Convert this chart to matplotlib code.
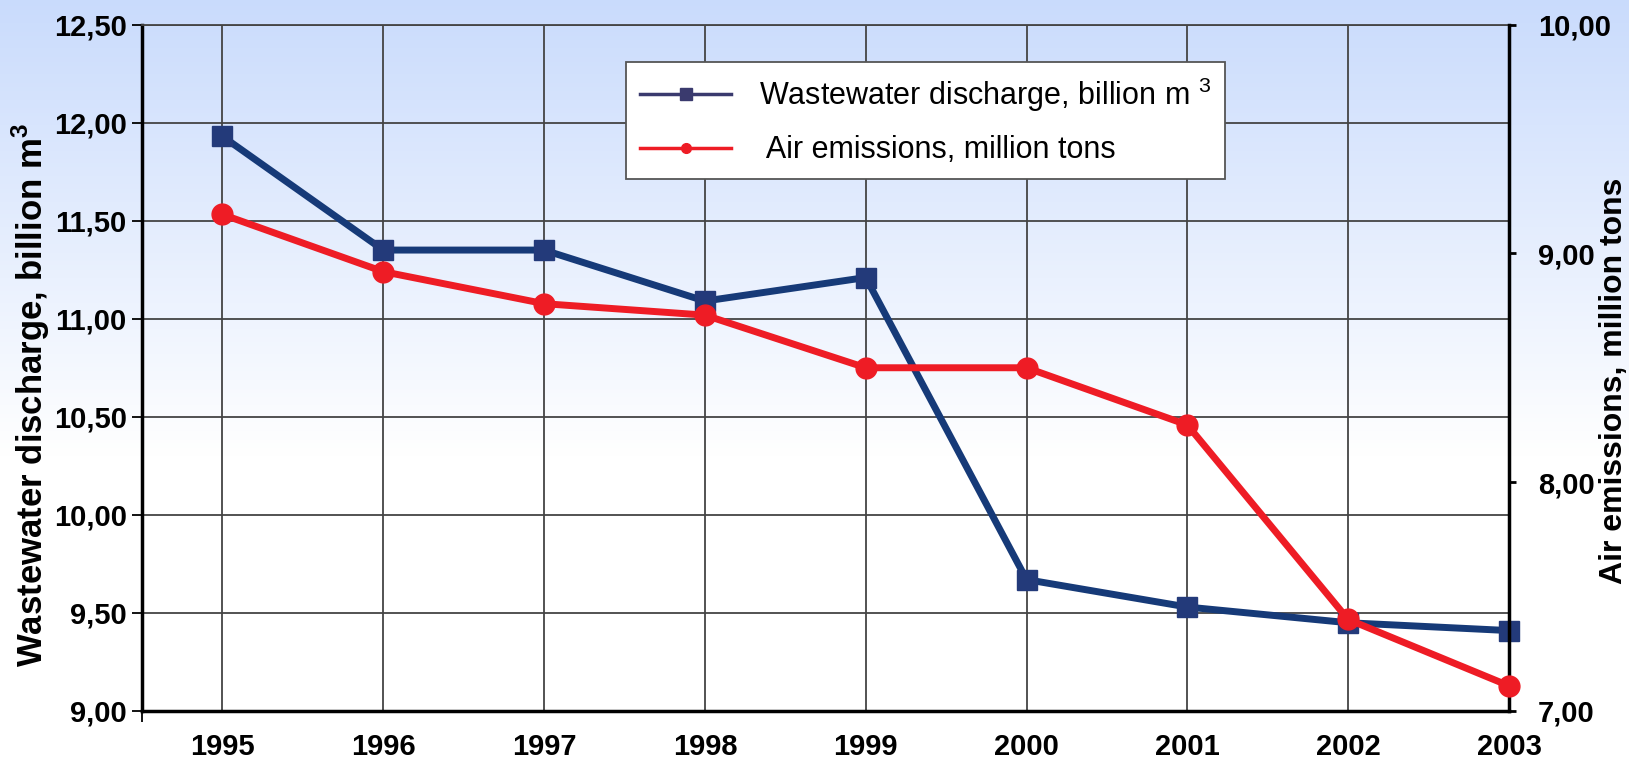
import numpy as np
import matplotlib
matplotlib.use('Agg')
import matplotlib.pyplot as plt
from matplotlib.lines import Line2D

plt.rcParams['font.family'] = ['Liberation Sans', 'DejaVu Sans']
plt.rcParams['mathtext.fontset'] = 'custom'
plt.rcParams['mathtext.rm'] = 'Liberation Sans'
plt.rcParams['mathtext.bf'] = 'Liberation Sans:bold'

years      = [1995, 1996, 1997, 1998, 1999, 2000, 2001, 2002, 2003]
wastewater = [11.93, 11.35, 11.35, 11.09, 11.21, 9.67, 9.53, 9.45, 9.41]
emissions  = [9.17, 8.92, 8.78, 8.73, 8.50, 8.50, 8.25, 7.40, 7.11]

left_ticks  = [9.0, 9.5, 10.0, 10.5, 11.0, 11.5, 12.0, 12.5]
right_ticks = [7.0, 8.0, 9.0, 10.0]

BLUE        = '#163a78'
BLUE_MARKER = '#233a7a'
RED         = '#ee1c25'
GRID        = '#444444'

fig = plt.figure(figsize=(16.29, 7.61), dpi=100)

# ── Background gradient ──────────────────────────────────────────────
bg = fig.add_axes([0, 0, 1, 1], zorder=-10)
t = np.linspace(0, 1, 256)[:, None]          # 0 = bottom, 1 = top
top = np.array([0.79, 0.86, 0.99])
fade = np.clip((t - 0.40) / 0.60, 0, 1)
grad = 1 - (1 - top) * fade[..., None]
grad = np.repeat(grad, 2, axis=1)
bg.imshow(grad, aspect='auto', origin='lower', extent=[0, 1, 0, 1])
bg.axis('off')

# ── Main axes ────────────────────────────────────────────────────────
ax1 = fig.add_axes([142/1629, 1 - 711/761, (1509-142)/1629, (711-24.5)/761])
ax1.patch.set_alpha(0)
ax2 = ax1.twinx()

ax1.plot(years, wastewater, color=BLUE, lw=5, marker='s', ms=14,
         mfc=BLUE_MARKER, mec=BLUE_MARKER, zorder=3, clip_on=False)
ax2.plot(years, emissions, color=RED, lw=5, marker='o', ms=15,
         mfc=RED, mec=RED, zorder=3, clip_on=False)

ax1.set_xlim(1994.5, 2003)
ax1.set_ylim(9.0, 12.5)
ax2.set_ylim(7.0, 10.0)

ax1.set_xticks(years)
ax1.set_xticklabels([str(y) for y in years])
ax1.set_yticks(left_ticks)
ax1.set_yticklabels([f'{v:.2f}'.replace('.', ',') for v in left_ticks])
ax2.set_yticks(right_ticks)
ax2.set_yticklabels([f'{v:.2f}'.replace('.', ',') for v in right_ticks])

ax1.grid(True, color=GRID, lw=1.3, zorder=0)
ax1.set_axisbelow(True)

for lbl in ax1.get_xticklabels() + ax1.get_yticklabels() + ax2.get_yticklabels():
    lbl.set_fontweight('bold')
ax1.tick_params(axis='x', length=0, pad=16, labelsize=21)
ax1.tick_params(axis='y', length=7, width=1.3, pad=4, labelsize=21)
ax2.tick_params(axis='y', length=5, width=2, pad=16, labelsize=21)
ax1.set_xticks([1994.5], minor=True)
ax1.tick_params(axis='x', which='minor', length=8, width=1.3)

for s in ['left', 'bottom']:
    ax1.spines[s].set_linewidth(2.5)
ax1.spines['top'].set_linewidth(1.3)
ax1.spines['top'].set_color(GRID)
ax1.spines['right'].set_visible(False)
ax2.spines['right'].set_linewidth(2.5)
for s in ['left', 'bottom', 'top']:
    ax2.spines[s].set_visible(False)

fig.text(31/1629, 1 - 395/761, r'Wastewater discharge, billion m$^\mathbf{3}$',
         rotation=90, ha='center', va='center', fontsize=25, fontweight='bold')
fig.text(1614/1629, 1 - 381/761, 'Air emissions, million tons',
         rotation=90, ha='center', va='center', fontsize=23, fontweight='bold')

# ── Legend ───────────────────────────────────────────────────────────
handles = [
    Line2D([], [], color='#3a3a6e', lw=2.5, marker='s', ms=9),
    Line2D([], [], color=RED, lw=2.5, marker='o', ms=7),
]
labels = [r'Wastewater discharge, billion m $^{3}$', ' Air emissions, million tons']
leg = fig.legend(handles, labels, loc='upper left',
                 bbox_to_anchor=(626/1629, 1 - 62/761),
                 fontsize=22, frameon=True, fancybox=False, framealpha=1,
                 edgecolor='#555555', handlelength=3.0, handletextpad=0.9,
                 borderpad=0.45, labelspacing=0.7, borderaxespad=0)
leg.get_frame().set_linewidth(1.3)

fig.savefig('out.png', dpi=100)
